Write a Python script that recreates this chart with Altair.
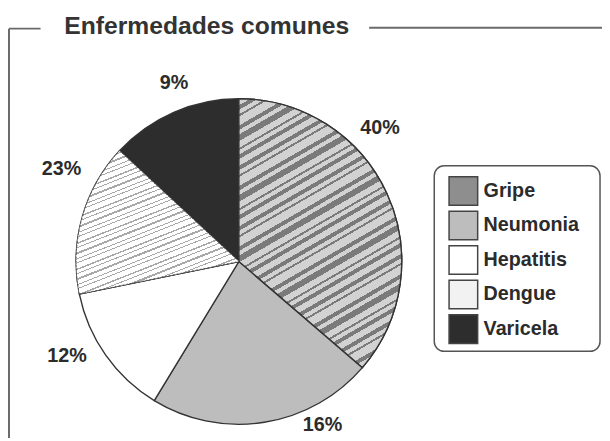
import altair as alt
import pandas as pd

# ---- data ----
categories = ["Gripe", "Neumonia", "Hepatitis", "Dengue", "Varicela"]
shares = [36.3, 22.4, 13.1, 15.1, 13.1]          # slice sizes as drawn (% of the circle)
labels = ["40%", "16%", "12%", "23%", "9%"]       # printed percentage labels
colors = ["#8e8e8e", "#bdbdbd", "#ffffff", "#f2f2f2", "#2d2d2d"]
title_text = "Enfermedades comunes"

df = pd.DataFrame({"cat": categories, "share": shares, "label": labels,
                   "order": list(range(len(categories)))})
total = sum(shares)

# ---- layout / style ----
W, H = 602, 433
CX, CY, R = 234, 254, 165
FONT = "Liberation Sans"
TXT = "#2b2b2b"
LINE = "#6a6a6a"
LABEL_R = 197
LABEL_NUDGE = {"Gripe": (-36, -53), "Neumonia": (54, -29), "Hepatitis": (-13, -17),
               "Dengue": (10, -40), "Varicela": (13, 0)}


def stripe_gradient(pattern, light, dark, reps, a):
    segs = []
    for _ in range(reps):
        for w1, w2 in pattern:
            segs.append((light, w1))
            segs.append((dark, w2))
    tot = float(sum(w for _, w in segs))
    stops, p = [], 0.0
    for c, w in segs:
        stops.append(alt.GradientStop(color=c, offset=min(1.0, p / tot)))
        p += w
        stops.append(alt.GradientStop(color=c, offset=min(1.0, p / tot)))
    k = (a + 1.0) / (a * a + 1.0)   # stretch so the whole bounding box is covered
    return alt.LinearGradient(gradient="linear", stops=stops, x1=0, y1=0,
                              x2=round(a * k, 3), y2=round(k, 3))


gripe_fill = stripe_gradient([(3, 2), (2, 1), (4, 2), (2, 3), (3, 1), (2, 2)],
                             "#d2d2d2", "#7a7a7a", 6, 0.35)
dengue_fill = stripe_gradient([(4, 1), (3, 1), (5, 1.5), (3, 1), (4, 2)],
                              "#ffffff", "#a8a8a8", 8, 0.45)

base = (alt.Chart(df)
        .transform_stack(stack="share", as_=["v0", "v1"], groupby=[],
                         sort=[alt.SortField("order", order="ascending")])
        .transform_calculate(vm="(datum.v0 + datum.v1) / 2"))

theta = alt.Theta("v0:Q", scale=alt.Scale(domain=[0, total]))
theta2 = alt.Theta2("v1:Q")
center = dict(x=alt.value(CX), y=alt.value(CY))

pie = base.mark_arc(radius=R, stroke="#333333", strokeWidth=1.4).encode(
    theta=theta, theta2=theta2,
    color=alt.Color("cat:N", scale=alt.Scale(domain=categories, range=colors),
                    legend=alt.Legend(title=None, orient="none", legendX=446, legendY=167,
                                      symbolType="square", symbolSize=840,
                                      symbolStrokeColor="#444444", symbolStrokeWidth=1.5,
                                      symbolOpacity=1, labelFont=FONT, labelFontSize=20,
                                      labelFontWeight="bold", labelColor=TXT,
                                      labelOffset=5, rowPadding=0, padding=0,
                                      labelLimit=200)),
    **center)

gripe = base.transform_filter(alt.datum.cat == "Gripe").mark_arc(
    radius=R, fill=gripe_fill, stroke="#333333", strokeWidth=1.4).encode(
    theta=theta, theta2=theta2, **center)

dengue = base.transform_filter(alt.datum.cat == "Dengue").mark_arc(
    radius=R, fill=dengue_fill, stroke="#555555", strokeWidth=1.0, strokeDash=[2, 2]).encode(
    theta=theta, theta2=theta2, **center)

label_layers = []
for c in categories:
    dx, dy = LABEL_NUDGE[c]
    label_layers.append(
        base.transform_filter(alt.datum.cat == c).mark_text(
            radius=LABEL_R, dx=dx, dy=dy, font=FONT, fontSize=20, fontWeight="bold",
            color=TXT, align="center", baseline="middle").encode(
            theta=alt.Theta("vm:Q", scale=alt.Scale(domain=[0, total])),
            text="label:N", **center))

deco = alt.Chart(pd.DataFrame({"k": [0]}))
frame_a = deco.mark_rule(color=LINE, strokeWidth=2).encode(
    x=alt.value(1), x2=alt.value(33), y=alt.value(18))
frame_b = deco.mark_rule(color=LINE, strokeWidth=2).encode(
    x=alt.value(366), x2=alt.value(W), y=alt.value(17))
frame_c = deco.mark_rule(color=LINE, strokeWidth=2).encode(
    x=alt.value(1), y=alt.value(18), y2=alt.value(H))
legend_box = deco.mark_rect(fill="white", stroke="#555555", strokeWidth=1.5,
                            cornerRadius=10).encode(
    x=alt.value(432), x2=alt.value(600), y=alt.value(157), y2=alt.value(345))
title = deco.mark_text(align="left", baseline="alphabetic", font=FONT, fontSize=25,
                       fontWeight="bold", color="#333333").encode(
    x=alt.value(57), y=alt.value(23), text=alt.value(title_text))

chart = alt.layer(frame_a, frame_b, frame_c, legend_box, title, pie, gripe, dengue,
                  *label_layers).properties(
    width=W, height=H, padding=0, autosize=alt.AutoSizeParams(type="none")
).configure_view(strokeWidth=0)

chart.save("out.html", embed_options={"renderer": "svg", "actions": False})
